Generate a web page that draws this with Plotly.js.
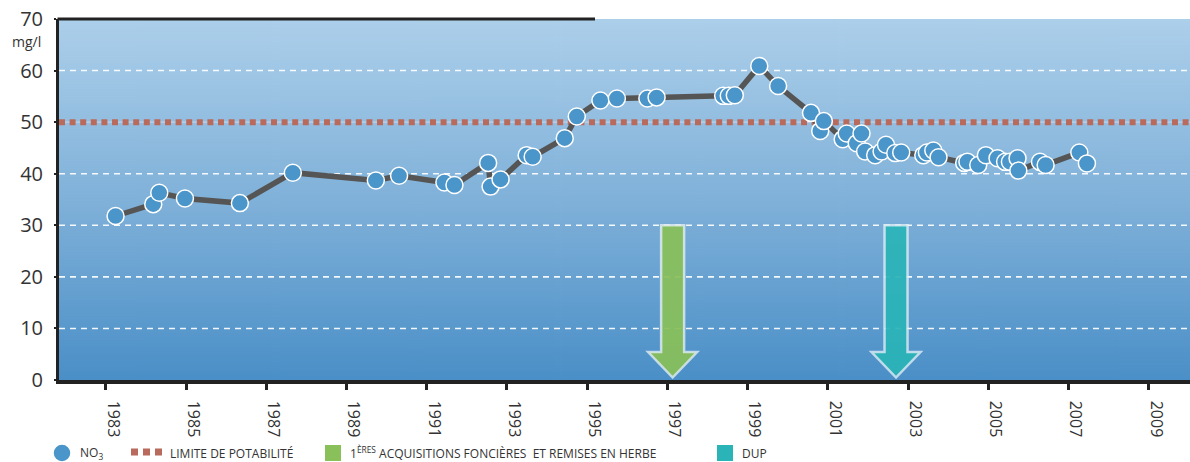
<!DOCTYPE html>
<html>
<head>
<meta charset="utf-8">
<script src="https://cdn.plot.ly/plotly-3.0.1.min.js"></script>
<style>
  html, body { margin: 0; padding: 0; background: #ffffff; }
  #chart { width: 1190px; height: 462px; }
</style>
</head>
<body>
<div id="chart"></div>
<script>
// ---------- DATA ----------
const sampleYears = [
  1983.24, 1984.18, 1984.33, 1984.97, 1986.34, 1987.66, 1989.73, 1990.31, 1991.44, 1991.69,
  1992.53, 1992.59, 1992.84, 1993.49, 1993.64, 1994.44, 1994.74, 1995.33, 1995.74, 1996.50,
  1996.73, 1998.39, 1998.53, 1998.68, 1999.29, 1999.76, 2000.58, 2000.81, 2000.90, 2001.37,
  2001.47, 2001.72, 2001.84, 2001.93, 2002.18, 2002.34, 2002.45, 2002.68, 2002.83, 2003.38,
  2003.47, 2003.63, 2003.76, 2004.40, 2004.48, 2004.75, 2004.94, 2005.23, 2005.42, 2005.54,
  2005.73, 2005.75, 2006.29, 2006.43, 2007.27, 2007.46
];
const no3Values = [
  31.8, 34.1, 36.3, 35.2, 34.3, 40.2, 38.7, 39.6, 38.3, 37.8,
  42.1, 37.5, 38.9, 43.6, 43.3, 46.9, 51.1, 54.2, 54.6, 54.6,
  54.8, 55.1, 55.1, 55.2, 60.9, 57.0, 51.8, 48.3, 50.2, 46.7,
  47.8, 45.9, 47.8, 44.3, 43.6, 44.3, 45.6, 44.0, 44.1, 43.6,
  44.1, 44.5, 43.2, 42.1, 42.3, 41.7, 43.6, 43.0, 42.3, 42.3,
  43.0, 40.6, 42.3, 41.7, 44.1, 42.0
];
const yearTicks = [1983, 1985, 1987, 1989, 1991, 1993, 1995, 1997, 1999, 2001, 2003, 2005, 2007, 2009];
const yearTickLabels = ['1983', '1985', '1987', '1989', '1991', '1993', '1995', '1997', '1999', '2001', '2003', '2005', '2007', '2009'];
const valueTicks = [0, 10, 20, 30, 40, 50, 60, 70];
const valueTickLabels = ['0', '10', '20', '30', '40', '50', '60', '70'];
const potabilityLimit = 50;
const eventYears = [1997.13, 2002.70];
const eventNames = ['1ères acquisitions foncières et remises en herbe', 'DUP'];
const arrowTopValue = 30;
const legendLabels = ['NO<sub>3</sub>', 'LIMITE DE POTABILITÉ',
  '1<sup>ÈRES</sup> ACQUISITIONS FONCIÈRES  ET REMISES EN HERBE', 'DUP'];

// ---------- STYLE / LAYOUT ----------
const W = 1190, H = 462;
const PL = 59, PR = 1190, PT = 19, PB = 380;
const X_RANGE = [1981.83, 2010.03];
const Y_RANGE = [0, 70];
const pxPerYear = (PR - PL) / (X_RANGE[1] - X_RANGE[0]);
const pxPerUnit = (PB - PT) / (Y_RANGE[1] - Y_RANGE[0]);
const xp = px => (px - PL) / (PR - PL);
const yp = py => (PB - py) / (PB - PT);

const COLORS = {
  marker: '#4a95c9',
  line: '#555555',
  limit: '#b86b5c',
  green: '#89c05a',
  teal: '#2bb4b8',
  text: '#333333'
};
const eventColors = [COLORS.green, COLORS.teal];
const FONT = '"Open Sans", "Noto Sans", sans-serif';

function gradientURI() {
  const c = document.createElement('canvas');
  c.width = 8; c.height = 361;
  const ctx = c.getContext('2d');
  const g = ctx.createLinearGradient(0, 0, 0, 361);
  g.addColorStop(0, '#accfea');
  g.addColorStop(0.5, '#80b1d9');
  g.addColorStop(1, '#4a8fc7');
  ctx.fillStyle = g;
  ctx.fillRect(0, 0, 8, 361);
  return c.toDataURL('image/png');
}

// arrow shape paths in data coordinates
function arrowPath(xc) {
  const s = 11.5 / pxPerYear;
  const h = 24.5 / pxPerYear;
  const headY = 28 / pxPerUnit;
  const tipY = 2.5 / pxPerUnit;
  return `M ${xc - s},${arrowTopValue} L ${xc + s},${arrowTopValue} L ${xc + s},${headY} ` +
         `L ${xc + h},${headY} L ${xc},${tipY} L ${xc - h},${headY} L ${xc - s},${headY} Z`;
}

const shapes = [];
// dashed white gridlines (the one at the limit is replaced by a faint solid guide)
valueTicks.forEach(v => {
  if (v === Y_RANGE[0] || v === Y_RANGE[1]) return;
  if (v === potabilityLimit) {
    shapes.push({
      type: 'line', xref: 'paper', yref: 'y', x0: 0, x1: 1, y0: v, y1: v,
      line: { color: 'rgba(200,215,235,0.8)', width: 1.2 }, layer: 'between'
    });
  } else {
    shapes.push({
      type: 'line', xref: 'paper', yref: 'y', x0: 0, x1: 1, y0: v, y1: v,
      line: { color: 'rgba(255,255,255,0.92)', width: 1.6, dash: '6px,5px' }, layer: 'between'
    });
  }
});
// potability limit
shapes.push({
  type: 'line', xref: 'paper', yref: 'y', x0: 0, x1: 1, y0: potabilityLimit, y1: potabilityLimit,
  line: { color: COLORS.limit, width: 6, dash: '6px,4.6px' }, layer: 'between'
});
// event arrows
eventYears.forEach((yr, i) => {
  shapes.push({
    type: 'path', xref: 'x', yref: 'y', path: arrowPath(yr),
    fillcolor: eventColors[i], opacity: 0.93,
    line: { color: 'rgba(235,242,250,0.8)', width: 2.5 }, layer: 'between'
  });
});
// partial top frame line
shapes.push({
  type: 'line', xref: 'paper', yref: 'paper', x0: xp(PL - 1.5), x1: xp(595), y0: 1, y1: 1,
  line: { color: '#222222', width: 3 }, layer: 'above'
});
// legend symbols
const legY = 453;
shapes.push({
  type: 'circle', xref: 'paper', yref: 'paper',
  x0: xp(62 - 9), x1: xp(62 + 9), y0: yp(legY + 9), y1: yp(legY - 9),
  fillcolor: COLORS.marker, line: { color: '#ffffff', width: 1.5 }
});
shapes.push({
  type: 'line', xref: 'paper', yref: 'paper', x0: xp(131), x1: xp(162), y0: yp(452), y1: yp(452),
  line: { color: COLORS.limit, width: 7, dash: '7px,5px' }
});
shapes.push({
  type: 'rect', xref: 'paper', yref: 'paper', x0: xp(325), x1: xp(341), y0: yp(461), y1: yp(445),
  fillcolor: COLORS.green, line: { width: 0 }
});
shapes.push({
  type: 'rect', xref: 'paper', yref: 'paper', x0: xp(717), x1: xp(733), y0: yp(461), y1: yp(445),
  fillcolor: COLORS.teal, line: { width: 0 }
});

const legendX = [78, 168, 348, 740];
const annotations = legendLabels.map((t, i) => ({
  xref: 'paper', yref: 'paper', x: xp(legendX[i]), y: yp(legY),
  xanchor: 'left', yanchor: 'middle', showarrow: false, text: t,
  font: { family: FONT, size: 12, color: COLORS.text }
}));
annotations.push({
  xref: 'paper', yref: 'paper', x: xp(43), y: yp(42), xanchor: 'right', yanchor: 'middle',
  showarrow: false, text: 'mg/l', font: { family: FONT, size: 14, color: COLORS.text }
});

const traces = [{
  type: 'scatter', mode: 'lines+markers', name: 'NO3',
  x: sampleYears, y: no3Values,
  line: { color: COLORS.line, width: 5.5 },
  marker: { size: 17, color: COLORS.marker, line: { color: '#ffffff', width: 1.5 } },
  showlegend: false, hoverinfo: 'x+y'
}];

const layout = {
  width: W, height: H,
  margin: { l: PL, r: W - PR, t: PT, b: H - PB, pad: 0 },
  paper_bgcolor: '#ffffff',
  plot_bgcolor: 'rgba(0,0,0,0)',
  showlegend: false,
  font: { family: FONT, color: COLORS.text },
  images: [{
    source: gradientURI(), xref: 'paper', yref: 'paper', x: 0, y: 1, sizex: 1, sizey: 1,
    xanchor: 'left', yanchor: 'top', sizing: 'stretch', layer: 'below'
  }],
  xaxis: {
    range: X_RANGE, tickmode: 'array', tickvals: yearTicks, ticktext: yearTickLabels,
    tickangle: 90, ticks: 'outside', ticklen: 6, tickwidth: 3, tickcolor: '#222222',
    ticklabelshift: 7, ticklabelstandoff: 8,
    showline: true, linecolor: '#222222', linewidth: 3.5,
    showgrid: false, zeroline: false,
    tickfont: { family: FONT, size: 16, color: COLORS.text }
  },
  yaxis: {
    range: Y_RANGE, tickmode: 'array', tickvals: valueTicks, ticktext: valueTickLabels,
    ticks: 'outside', ticklen: 2, tickwidth: 2, tickcolor: '#222222',
    ticklabelstandoff: 7,
    showline: true, linecolor: '#222222', linewidth: 3,
    showgrid: false, zeroline: false,
    tickfont: { family: FONT, size: 20, color: COLORS.text }
  },
  shapes: shapes,
  annotations: annotations
};

Plotly.newPlot('chart', traces, layout, { displayModeBar: false, staticPlot: true });
</script>
</body>
</html>
